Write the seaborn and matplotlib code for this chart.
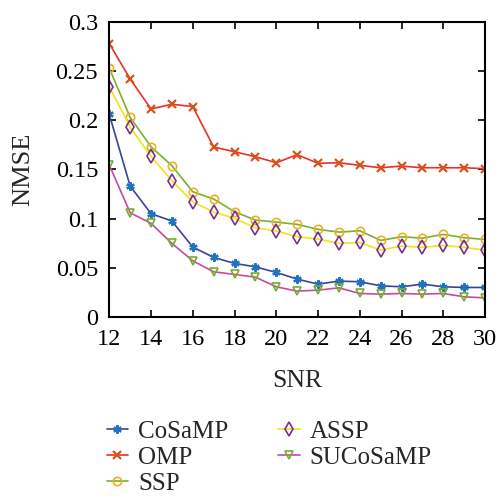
import pandas as pd
import seaborn as sns
import matplotlib.pyplot as plt

snr = list(range(12, 31))

cosamp = [0.206, 0.133, 0.105, 0.0975, 0.071, 0.0605, 0.0544, 0.0509, 0.0452, 0.0384,
          0.0333, 0.0364, 0.0357, 0.0316, 0.0306, 0.0333, 0.0306, 0.0299, 0.0299]
omp = [0.278, 0.242, 0.2115, 0.2163, 0.2139, 0.1728, 0.168, 0.1629, 0.1568, 0.165,
       0.1562, 0.1568, 0.1541, 0.1517, 0.1534, 0.1517, 0.1517, 0.1517, 0.1507]
ssp = [0.253, 0.203, 0.173, 0.1538, 0.1273, 0.1199, 0.1069, 0.0985, 0.0964, 0.0941,
       0.089, 0.0862, 0.0876, 0.0778, 0.0815, 0.0801, 0.0839, 0.0805, 0.0788]
assp = [0.2342, 0.1929, 0.1633, 0.1385, 0.1171, 0.1066, 0.1002, 0.0906, 0.0873, 0.0815,
        0.0791, 0.0747, 0.0757, 0.0679, 0.072, 0.0707, 0.0727, 0.0707, 0.0679]
sucosamp = [0.1545, 0.1059, 0.0951, 0.0747, 0.057, 0.0458, 0.0432, 0.0404, 0.0306, 0.0262,
            0.0272, 0.0295, 0.0238, 0.0231, 0.0238, 0.0231, 0.0238, 0.0204, 0.0193]

sns.set_style("ticks")
plt.rcParams['font.family'] = ['Liberation Serif', 'DejaVu Serif']

fig, ax = plt.subplots(figsize=(4.99, 4.99), dpi=100)
fig.subplots_adjust(left=0.219, right=0.972, top=0.956, bottom=0.365)

# name, values, line colour, marker, marker colour, filled
series = [
    ("CoSaMP", cosamp, "#3d4299", (6, 2, 0), "#1f74c0", True),
    ("OMP", omp, "#e8302c", "x", "#d9531e", True),
    ("SSP", ssp, "#78b030", "o", "#edb120", False),
    ("ASSP", assp, "#f2e21a", "d", "#7e2f8e", False),
    ("SUCoSaMP", sucosamp, "#c64a9f", "v", "#77ac30", False),
]

for name, vals, lc, mk, mc, filled in series:
    sns.lineplot(x=snr, y=vals, ax=ax, color=lc, linewidth=1.2, label=name,
                 marker=mk, markersize=6 if mk != "d" else 7,
                 markeredgecolor=mc, markerfacecolor=mc if filled else "none",
                 markeredgewidth=1.6 if mk in ("x", (6, 2, 0)) else 1.2)

ax.set_xlim(12, 30)
ax.set_ylim(0, 0.3)
ax.set_xticks(range(12, 31, 2))
ax.set_yticks([0, 0.05, 0.1, 0.15, 0.2, 0.25, 0.3])
ax.set_yticklabels(["0", "0.05", "0.1", "0.15", "0.2", "0.25", "0.3"])
ax.tick_params(direction="in", length=5, width=1.2, top=True, right=True,
               labelsize=17.5, colors="black")
ax.tick_params(axis="x", pad=9)
ax.tick_params(axis="y", pad=8)
for sp in ax.spines.values():
    sp.set_linewidth(1.5)
    sp.set_color("black")

ax.set_xlabel("SNR", fontsize=18.5, labelpad=14)
ax.set_ylabel("NMSE", fontsize=19, labelpad=15)

handles, labels = ax.get_legend_handles_labels()
ax.get_legend().remove()
fig.legend(handles, labels, ncol=2, frameon=False, fontsize=18,
           loc="upper left", bbox_to_anchor=(0.214, 0.158), handlelength=0.85,
           handletextpad=0.4, columnspacing=2.0, labelspacing=0.15,
           borderaxespad=0, borderpad=0)

plt.savefig("out.png", dpi=100)
